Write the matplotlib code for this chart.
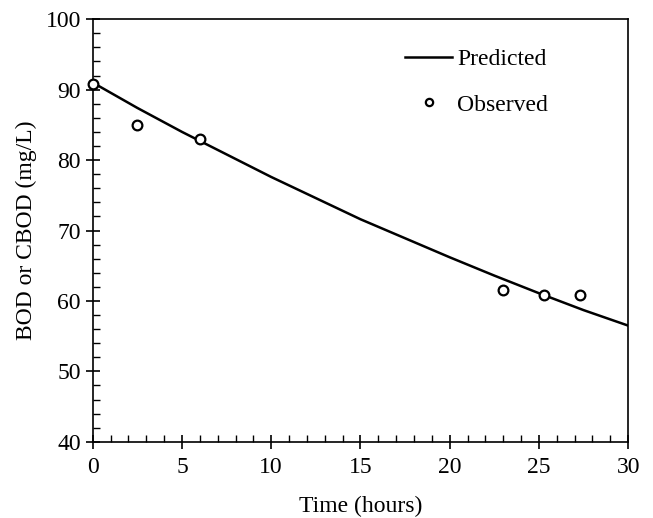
import matplotlib
matplotlib.use("Agg")
import matplotlib.pyplot as plt
from matplotlib.ticker import MultipleLocator

plt.rcParams["font.family"] = ["Liberation Serif", "DejaVu Serif"]

# predicted curve
pred_t = [0, 2.5, 5, 7.5, 10, 12.5, 15, 17.5, 20, 22.5, 25, 27.5, 30]
pred_bod = [91.0, 87.4, 84.0, 80.8, 77.6, 74.6, 71.6, 68.9, 66.2, 63.6, 61.1, 58.7, 56.5]

# observed points
obs_t = [0.0, 2.5, 6.0, 23.0, 25.3, 27.3]
obs_bod = [90.8, 85.0, 83.0, 61.5, 60.9, 60.9]

fig = plt.figure(figsize=(6.53, 5.18), dpi=100)
ax = fig.add_axes([0.142, 0.147, 0.820, 0.816])

ax.plot(pred_t, pred_bod, color="black", lw=1.8, label="Predicted", zorder=2)
ax.plot(obs_t, obs_bod, ls="none", marker="o", ms=7, mfc="white", mec="black",
        mew=1.6, label="Observed", zorder=3, clip_on=False)

ax.set_xlim(0, 30)
ax.set_ylim(40, 100)
ax.xaxis.set_major_locator(MultipleLocator(5))
ax.xaxis.set_minor_locator(MultipleLocator(1))
ax.yaxis.set_major_locator(MultipleLocator(10))
ax.yaxis.set_minor_locator(MultipleLocator(2))
ax.tick_params(which="major", direction="inout", length=10, width=1.2, labelsize=17)
ax.tick_params(which="minor", direction="in", length=5, width=1.0)
ax.tick_params(axis="x", pad=6)
for sp in ax.spines.values():
    sp.set_linewidth(1.2)

ax.set_xlabel("Time (hours)", fontsize=17, labelpad=13)
ax.set_ylabel("BOD or CBOD (mg/L)", fontsize=17, labelpad=6)

ax.legend(loc="upper right", bbox_to_anchor=(0.89, 0.98), frameon=False, fontsize=17,
          handlelength=2.0, handletextpad=0.2, labelspacing=1.0, markerscale=0.75)

fig.savefig("out.png", dpi=100)
